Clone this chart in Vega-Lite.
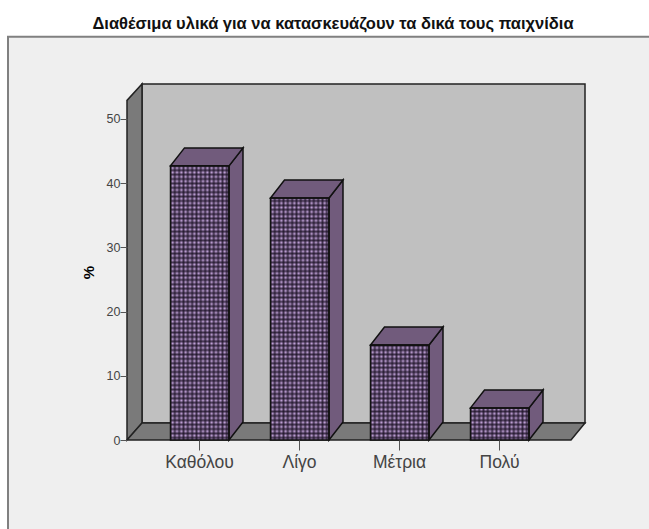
{
"$schema":"https://vega.github.io/schema/vega-lite/v6.json",
"width":458,"height":356,
"autosize":"none",
"padding":{"left":127,"top":84,"right":64,"bottom":89},
"background":"#ffffff",
"config":{"view":{"stroke":null},"font":"Liberation Sans","axis":{"grid":false,"domain":false}},
"title":{"text":"Διαθέσιμα υλικά για να κατασκευάζουν τα δικά τους παιχνίδια","font":"Liberation Sans","fontSize":16.5,"fontWeight":"bold","color":"#111111","anchor":"middle","frame":"group","dx":-23,"offset":3},
"data":{"values":[
{"category":"Καθόλου","position":1,"value":42.7},
{"category":"Λίγο","position":2,"value":37.7},
{"category":"Μέτρια","position":3,"value":14.8},
{"category":"Πολύ","position":4,"value":5.0}
]},
"transform":[
{"calculate":"datum.position-0.285","as":"left"},
{"calculate":"datum.position+0.3","as":"right"}
],
"layer":[
{"data":{"values":[{}]},"mark":{"type":"rect","fill":"#efefef","stroke":"#808080","strokeWidth":2,"clip":false},
"encoding":{
"x":{"datum":-0.91,"type":"quantitative","scale":{"domain":[0.28,4.86],"nice":false,"zero":false},"axis":{"values":[1,2,3,4],"labelExpr":"['','Καθόλου','Λίγο','Μέτρια','Πολύ'][datum.value]","title":null,"grid":false,"domain":false,"tickSize":10,"tickColor":"#555555","labelColor":"#444444","labelFont":"Liberation Sans","labelFontSize":17.5,"labelPadding":3,"zindex":1}},
"x2":{"datum":5.6},
"y":{"datum":62.8,"type":"quantitative","scale":{"domain":[0,55.45],"nice":false,"zero":false},"axis":{"values":[0,10,20,30,40,50],"title":"%","titleFont":"Liberation Sans","titleFontSize":15,"titleFontWeight":"bold","titleColor":"#000000","titleX":-31,"titleY":188,"grid":false,"domain":false,"tickSize":7,"tickColor":"#555555","labelColor":"#444444","labelFont":"Liberation Sans","labelFontSize":12.5,"labelPadding":0,"zindex":1}},
"y2":{"datum":-15.6}}},
{"data":{"values":[{}]},"mark":{"type":"rect","fill":"#c0c0c0","stroke":"#222222","strokeWidth":1.5},
"encoding":{"x":{"datum":0.43,"type":"quantitative"},"x2":{"datum":4.86},"y":{"datum":55.45,"type":"quantitative"},"y2":{"datum":2.65}}},
{"data":{"values":[{}]},
"transform":[{"calculate":"[0.28,0.43]","as":"px"},{"calculate":"[0,2.65]","as":"lo"},{"calculate":"[52.9,55.45]","as":"hi"},{"flatten":["px","lo","hi"]}],
"mark":{"type":"area","fill":"#7a7a7a","stroke":"#222222","strokeWidth":1.5,"interpolate":"linear"},
"encoding":{"x":{"field":"px","type":"quantitative"},"y":{"field":"lo","type":"quantitative","stack":null},"y2":{"field":"hi"}}},
{"data":{"values":[{}]},
"transform":[{"calculate":"[0.28,0.43,4.72,4.86]","as":"px"},{"calculate":"[0,0,0,2.65]","as":"lo"},{"calculate":"[0,2.65,2.65,2.65]","as":"hi"},{"flatten":["px","lo","hi"]}],
"mark":{"type":"area","fill":"#7a7a7a","stroke":"#222222","strokeWidth":1.5,"interpolate":"linear"},
"encoding":{"x":{"field":"px","type":"quantitative"},"y":{"field":"lo","type":"quantitative","stack":null},"y2":{"field":"hi"}}},
{"mark":{"type":"rect","fill":"#c8a8e0"},
"encoding":{"x":{"field":"left","type":"quantitative"},"x2":{"field":"right"},"y":{"datum":42.7,"type":"quantitative"},"y2":{"datum":0}}},
{"mark":{"type":"rect","fill":{"gradient":"linear","x1":0,"y1":0,"x2":1,"y2":0,"stops":[
{"offset":0,"color":"#1a1023c0"},{"offset":0.037,"color":"#1a102300"},{"offset":0.0741,"color":"#1a1023c0"},{"offset":0.1111,"color":"#1a102300"},{"offset":0.1481,"color":"#1a1023c0"},{"offset":0.1852,"color":"#1a102300"},{"offset":0.2222,"color":"#1a1023c0"},{"offset":0.2593,"color":"#1a102300"},{"offset":0.2963,"color":"#1a1023c0"},{"offset":0.3333,"color":"#1a102300"},{"offset":0.3704,"color":"#1a1023c0"},{"offset":0.4074,"color":"#1a102300"},{"offset":0.4444,"color":"#1a1023c0"},{"offset":0.4815,"color":"#1a102300"},{"offset":0.5185,"color":"#1a1023c0"},{"offset":0.5556,"color":"#1a102300"},{"offset":0.5926,"color":"#1a1023c0"},{"offset":0.6296,"color":"#1a102300"},{"offset":0.6667,"color":"#1a1023c0"},{"offset":0.7037,"color":"#1a102300"},{"offset":0.7407,"color":"#1a1023c0"},{"offset":0.7778,"color":"#1a102300"},{"offset":0.8148,"color":"#1a1023c0"},{"offset":0.8519,"color":"#1a102300"},{"offset":0.8889,"color":"#1a1023c0"},{"offset":0.9259,"color":"#1a102300"},{"offset":0.963,"color":"#1a1023c0"},{"offset":1,"color":"#1a102300"}
]}},
"encoding":{"x":{"field":"left","type":"quantitative"},"x2":{"field":"right"},"y":{"datum":42.7,"type":"quantitative"},"y2":{"datum":0}}},
{"mark":{"type":"rect","fill":{"gradient":"linear","x1":0,"y1":0,"x2":0,"y2":1,"stops":[
{"offset":0,"color":"#1a1023c0"},{"offset":0.008,"color":"#1a102300"},{"offset":0.016,"color":"#1a1023c0"},{"offset":0.024,"color":"#1a102300"},{"offset":0.032,"color":"#1a1023c0"},{"offset":0.04,"color":"#1a102300"},{"offset":0.048,"color":"#1a1023c0"},{"offset":0.056,"color":"#1a102300"},{"offset":0.064,"color":"#1a1023c0"},{"offset":0.072,"color":"#1a102300"},{"offset":0.08,"color":"#1a1023c0"},{"offset":0.088,"color":"#1a102300"},{"offset":0.096,"color":"#1a1023c0"},{"offset":0.104,"color":"#1a102300"},{"offset":0.112,"color":"#1a1023c0"},{"offset":0.12,"color":"#1a102300"},{"offset":0.128,"color":"#1a1023c0"},{"offset":0.136,"color":"#1a102300"},{"offset":0.144,"color":"#1a1023c0"},{"offset":0.152,"color":"#1a102300"},{"offset":0.16,"color":"#1a1023c0"},{"offset":0.168,"color":"#1a102300"},{"offset":0.176,"color":"#1a1023c0"},{"offset":0.184,"color":"#1a102300"},{"offset":0.192,"color":"#1a1023c0"},{"offset":0.2,"color":"#1a102300"},{"offset":0.208,"color":"#1a1023c0"},{"offset":0.216,"color":"#1a102300"},{"offset":0.224,"color":"#1a1023c0"},{"offset":0.232,"color":"#1a102300"},{"offset":0.24,"color":"#1a1023c0"},{"offset":0.248,"color":"#1a102300"},{"offset":0.256,"color":"#1a1023c0"},{"offset":0.264,"color":"#1a102300"},{"offset":0.272,"color":"#1a1023c0"},{"offset":0.28,"color":"#1a102300"},{"offset":0.288,"color":"#1a1023c0"},{"offset":0.296,"color":"#1a102300"},{"offset":0.304,"color":"#1a1023c0"},{"offset":0.312,"color":"#1a102300"},{"offset":0.32,"color":"#1a1023c0"},{"offset":0.328,"color":"#1a102300"},{"offset":0.336,"color":"#1a1023c0"},{"offset":0.344,"color":"#1a102300"},{"offset":0.352,"color":"#1a1023c0"},{"offset":0.36,"color":"#1a102300"},{"offset":0.368,"color":"#1a1023c0"},{"offset":0.376,"color":"#1a102300"},{"offset":0.384,"color":"#1a1023c0"},{"offset":0.392,"color":"#1a102300"},{"offset":0.4,"color":"#1a1023c0"},{"offset":0.408,"color":"#1a102300"},{"offset":0.416,"color":"#1a1023c0"},{"offset":0.424,"color":"#1a102300"},{"offset":0.432,"color":"#1a1023c0"},{"offset":0.44,"color":"#1a102300"},{"offset":0.448,"color":"#1a1023c0"},{"offset":0.456,"color":"#1a102300"},{"offset":0.464,"color":"#1a1023c0"},{"offset":0.472,"color":"#1a102300"},{"offset":0.48,"color":"#1a1023c0"},{"offset":0.488,"color":"#1a102300"},{"offset":0.496,"color":"#1a1023c0"},{"offset":0.504,"color":"#1a102300"},{"offset":0.512,"color":"#1a1023c0"},{"offset":0.52,"color":"#1a102300"},{"offset":0.528,"color":"#1a1023c0"},{"offset":0.536,"color":"#1a102300"},{"offset":0.544,"color":"#1a1023c0"},{"offset":0.552,"color":"#1a102300"},{"offset":0.56,"color":"#1a1023c0"},{"offset":0.568,"color":"#1a102300"},{"offset":0.576,"color":"#1a1023c0"},{"offset":0.584,"color":"#1a102300"},{"offset":0.592,"color":"#1a1023c0"},{"offset":0.6,"color":"#1a102300"},{"offset":0.608,"color":"#1a1023c0"},{"offset":0.616,"color":"#1a102300"},{"offset":0.624,"color":"#1a1023c0"},{"offset":0.632,"color":"#1a102300"},{"offset":0.64,"color":"#1a1023c0"},{"offset":0.648,"color":"#1a102300"},{"offset":0.656,"color":"#1a1023c0"},{"offset":0.664,"color":"#1a102300"},{"offset":0.672,"color":"#1a1023c0"},{"offset":0.68,"color":"#1a102300"},{"offset":0.688,"color":"#1a1023c0"},{"offset":0.696,"color":"#1a102300"},{"offset":0.704,"color":"#1a1023c0"},{"offset":0.712,"color":"#1a102300"},{"offset":0.72,"color":"#1a1023c0"},{"offset":0.728,"color":"#1a102300"},{"offset":0.736,"color":"#1a1023c0"},{"offset":0.744,"color":"#1a102300"},{"offset":0.752,"color":"#1a1023c0"},{"offset":0.76,"color":"#1a102300"},{"offset":0.768,"color":"#1a1023c0"},{"offset":0.776,"color":"#1a102300"},{"offset":0.784,"color":"#1a1023c0"},{"offset":0.792,"color":"#1a102300"},{"offset":0.8,"color":"#1a1023c0"},{"offset":0.808,"color":"#1a102300"},{"offset":0.816,"color":"#1a1023c0"},{"offset":0.824,"color":"#1a102300"},{"offset":0.832,"color":"#1a1023c0"},{"offset":0.84,"color":"#1a102300"},{"offset":0.848,"color":"#1a1023c0"},{"offset":0.856,"color":"#1a102300"},{"offset":0.864,"color":"#1a1023c0"},{"offset":0.872,"color":"#1a102300"},{"offset":0.88,"color":"#1a1023c0"},{"offset":0.888,"color":"#1a102300"},{"offset":0.896,"color":"#1a1023c0"},{"offset":0.904,"color":"#1a102300"},{"offset":0.912,"color":"#1a1023c0"},{"offset":0.92,"color":"#1a102300"},{"offset":0.928,"color":"#1a1023c0"},{"offset":0.936,"color":"#1a102300"},{"offset":0.944,"color":"#1a1023c0"},{"offset":0.952,"color":"#1a102300"},{"offset":0.96,"color":"#1a1023c0"},{"offset":0.968,"color":"#1a102300"},{"offset":0.976,"color":"#1a1023c0"},{"offset":0.984,"color":"#1a102300"},{"offset":0.992,"color":"#1a1023c0"},{"offset":1,"color":"#1a102300"}
]}},
"encoding":{"x":{"field":"left","type":"quantitative"},"x2":{"field":"right"},"y":{"datum":42.7,"type":"quantitative"},"y2":{"datum":0}}},
{"transform":[{"calculate":"datum.left-0.006","as":"maskLeft"},{"calculate":"datum.right+0.006","as":"maskRight"}],
"mark":{"type":"rect","fill":"#c0c0c0"},
"encoding":{"x":{"field":"maskLeft","type":"quantitative"},"x2":{"field":"maskRight"},"y":{"field":"value","type":"quantitative"},"y2":{"datum":43}}},
{"transform":[
{"calculate":"[datum.right,datum.right+0.14]","as":"px"},
{"calculate":"[0,2.8]","as":"lo"},
{"calculate":"[datum.value,datum.value+2.8]","as":"hi"},
{"flatten":["px","lo","hi"]}],
"mark":{"type":"area","fill":"#715b7c","stroke":"#111111","strokeWidth":1.5,"interpolate":"linear"},
"encoding":{"detail":{"field":"category"},"x":{"field":"px","type":"quantitative"},"y":{"field":"lo","type":"quantitative","stack":null},"y2":{"field":"hi"}}},
{"transform":[
{"calculate":"[datum.left,datum.left+0.14,datum.right,datum.right+0.14]","as":"px"},
{"calculate":"[datum.value,datum.value,datum.value,datum.value+2.8]","as":"lo"},
{"calculate":"[datum.value,datum.value+2.8,datum.value+2.8,datum.value+2.8]","as":"hi"},
{"flatten":["px","lo","hi"]}],
"mark":{"type":"area","fill":"#715b7c","stroke":"#111111","strokeWidth":1.5,"interpolate":"linear"},
"encoding":{"detail":{"field":"category"},"x":{"field":"px","type":"quantitative"},"y":{"field":"lo","type":"quantitative","stack":null},"y2":{"field":"hi"}}},
{"mark":{"type":"rect","fillOpacity":0,"stroke":"#111111","strokeWidth":1.5},
"encoding":{"x":{"field":"left","type":"quantitative"},"x2":{"field":"right"},"y":{"field":"value","type":"quantitative"},"y2":{"datum":0}}}
]
}
